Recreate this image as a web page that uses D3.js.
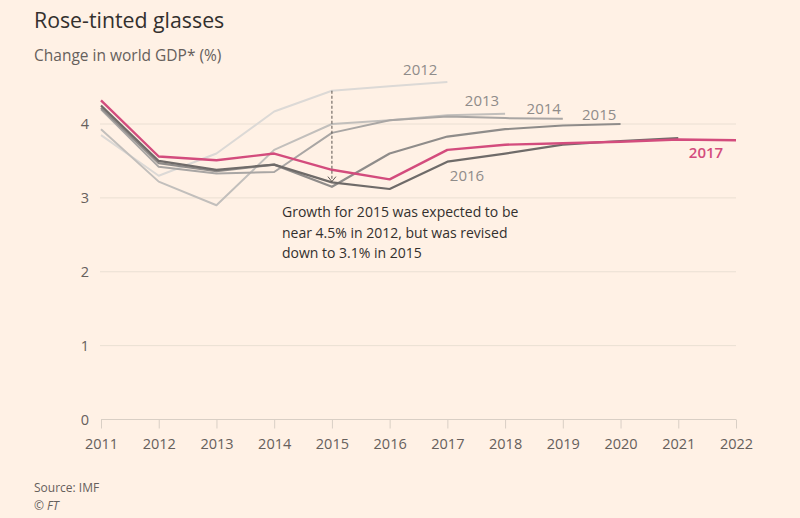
<!DOCTYPE html>
<html>
<head>
<meta charset="utf-8">
<script src="https://cdn.jsdelivr.net/npm/d3@7"></script>
<style>
  html, body { margin: 0; padding: 0; background: #fff1e5; }
  svg { display: block; font-family: "Open Sans", "Noto Sans", sans-serif; }
</style>
</head>
<body>
<svg id="chart" width="800" height="518"></svg>
<script>
// ---- data ----
const years = [2011, 2012, 2013, 2014, 2015, 2016, 2017, 2018, 2019, 2020, 2021, 2022];
const yTicks = [0, 1, 2, 3, 4];
const vintage2012 = [3.85, 3.3, 3.6, 4.17, 4.45, 4.51, 4.57];
const vintage2013 = [3.93, 3.22, 2.9, 3.65, 4.0, 4.05, 4.12, 4.14];
const vintage2014 = [4.2, 3.42, 3.33, 3.35, 3.88, 4.05, 4.1, 4.08, 4.07];
const vintage2015 = [4.22, 3.47, 3.36, 3.45, 3.15, 3.6, 3.83, 3.93, 3.98, 4.0];
const vintage2016 = [4.25, 3.5, 3.38, 3.45, 3.21, 3.12, 3.49, 3.6, 3.72, 3.77, 3.81];
const vintage2017 = [4.32, 3.56, 3.51, 3.6, 3.38, 3.25, 3.65, 3.72, 3.74, 3.76, 3.79, 3.78];
const seriesNames = ["2012", "2013", "2014", "2015", "2016", "2017"];
const annotationLines = [
  "Growth for 2015 was expected to be",
  "near 4.5% in 2012, but was revised",
  "down to 3.1% in 2015"
];

// ---- layout ----
const svg = d3.select("#chart");
const x = d3.scaleLinear().domain([2011, 2022]).range([101, 736]);
const y = d3.scaleLinear().domain([0, 4]).range([419.5, 124]);

svg.append("rect").attr("width", 800).attr("height", 518).attr("fill", "#fff1e5");

// title / subtitle
svg.append("text").attr("x", 34).attr("y", 28).attr("font-size", 21.3)
  .attr("fill", "#33302e").text("Rose-tinted glasses");
svg.append("text").attr("x", 34).attr("y", 61).attr("font-size", 15.5)
  .attr("fill", "#66605c").text("Change in world GDP* (%)");

// gridlines + y labels
const gy = svg.append("g");
yTicks.forEach(t => {
  if (t > 0) {
    gy.append("line").attr("x1", 100).attr("x2", 736)
      .attr("y1", y(t)).attr("y2", y(t))
      .attr("stroke", "#eadfd3").attr("stroke-width", 1);
  }
  gy.append("text").attr("x", 89).attr("y", y(t)).attr("dy", "0.35em")
    .attr("text-anchor", "end").attr("font-size", 14.5).attr("fill", "#66605c").text(t);
});

// x axis
const xAxis = d3.axisBottom(x).tickValues(years).tickFormat(d3.format("d"))
  .tickSize(9).tickPadding(10);
const gx = svg.append("g").attr("transform", `translate(0,${y(0)})`).call(xAxis);
gx.select(".domain").attr("stroke", "#d9cfc5").attr("d", `M${x(2011)},0H${x(2022)}`);
gx.selectAll(".tick line").attr("stroke", "#d9cfc5");
gx.selectAll(".tick text").attr("font-size", 14.5).attr("fill", "#66605c")
  .attr("font-family", "\"Open Sans\", \"Noto Sans\", sans-serif");

// lines
const allSeries = [vintage2012, vintage2013, vintage2014, vintage2015, vintage2016, vintage2017];
const colors = ["#dcd9d6", "#c2bfbc", "#a9a6a4", "#8f8c8a", "#6f6b69", "#d34c7d"];
const widths = [2, 2, 2, 2.2, 2.2, 2.4];
const line = d3.line().x((d, i) => x(years[i])).y(d => y(d));
allSeries.forEach((s, k) => {
  svg.append("path").datum(s).attr("d", line)
    .attr("fill", "none").attr("stroke", colors[k])
    .attr("stroke-width", widths[k]).attr("stroke-linejoin", "round");
});

// series labels
const labelPos = [
  [2016.53, 4.73], [2017.6, 4.31], [2018.67, 4.2], [2019.63, 4.12], [2017.34, 3.3], [2021.48, 3.61]
];
const labelColors = ["#8f8c8a", "#8f8c8a", "#8f8c8a", "#8f8c8a", "#8f8c8a", "#d34c7d"];
seriesNames.forEach((n, k) => {
  svg.append("text").attr("x", x(labelPos[k][0])).attr("y", y(labelPos[k][1]))
    .attr("dy", "0.35em").attr("text-anchor", "middle").attr("font-size", 15)
    .attr("font-weight", k === 5 ? 600 : 400)
    .attr("fill", labelColors[k]).text(n);
});

// annotation arrow
const ax = x(2015);
svg.append("line").attr("x1", ax).attr("x2", ax).attr("y1", y(4.45)).attr("y2", y(3.22))
  .attr("stroke", "#5a5450").attr("stroke-width", 1).attr("stroke-dasharray", "3,2");
svg.append("path")
  .attr("d", `M${ax - 4},${y(3.22) - 5}L${ax},${y(3.22)}L${ax + 4},${y(3.22) - 5}`)
  .attr("fill", "none").attr("stroke", "#5a5450").attr("stroke-width", 1);

const at = svg.append("text").attr("x", 282).attr("y", 217)
  .attr("font-size", 14).attr("fill", "#33302e");
annotationLines.forEach((l, i) => {
  at.append("tspan").attr("x", 282).attr("dy", i === 0 ? 0 : 20.5).text(l);
});

// source
svg.append("text").attr("x", 34).attr("y", 492).attr("font-size", 12)
  .attr("fill", "#66605c").text("Source: IMF");
const ft = svg.append("text").attr("x", 34).attr("y", 510).attr("font-size", 12)
  .attr("fill", "#66605c");
ft.append("tspan").text("© ");
ft.append("tspan").attr("font-style", "italic").text("FT");
</script>
</body>
</html>
